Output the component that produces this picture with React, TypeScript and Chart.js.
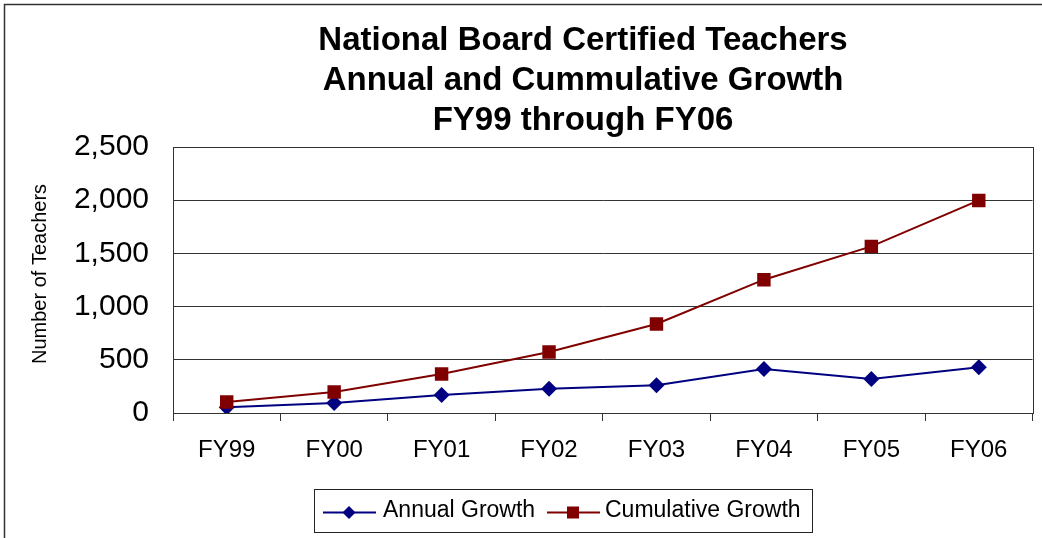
import React, { useEffect, useRef } from "react";
import { Chart, registerables } from "chart.js";

Chart.register(...registerables);

const categories = ["FY99", "FY00", "FY01", "FY02", "FY03", "FY04", "FY05", "FY06"];
const annualGrowth = [53, 94, 169, 228, 260, 414, 320, 429];
const cumulativeGrowth = [103, 197, 367, 573, 837, 1253, 1566, 1998];
const titleLines = [
  "National Board Certified Teachers",
  "Annual and Cummulative Growth",
  "FY99 through FY06",
];
const yAxisTitle = "Number of Teachers";
const seriesNames = ["Annual Growth", "Cumulative Growth"];

const FONT = "'Liberation Sans', Arial, sans-serif";
const NAVY = "#000080";
const MAROON = "#800000";

const decorPlugin = {
  id: "decor",
  beforeDatasetsDraw(chart: any) {
    const { ctx, chartArea } = chart;
    ctx.save();
    ctx.strokeStyle = "#333";
    ctx.lineWidth = 1;
    ctx.strokeRect(
      Math.round(chartArea.left) + 0.5,
      Math.round(chartArea.top) + 0.5,
      Math.round(chartArea.right - chartArea.left),
      Math.round(chartArea.bottom - chartArea.top)
    );
    ctx.restore();
  },
  afterDraw(chart: any) {
    const { ctx } = chart;
    ctx.save();
    // outer frame
    ctx.strokeStyle = "#333";
    ctx.lineWidth = 1.5;
    ctx.strokeRect(4.5, 4.5, 1100, 600);

    // title
    ctx.fillStyle = "#000";
    ctx.font = `bold 33px ${FONT}`;
    ctx.textAlign = "center";
    ctx.textBaseline = "alphabetic";
    const baselines = [50, 90, 130];
    titleLines.forEach((t, i) => ctx.fillText(t, 583, baselines[i]));

    // y axis title
    ctx.save();
    ctx.translate(46, 274);
    ctx.rotate(-Math.PI / 2);
    ctx.font = `20px ${FONT}`;
    ctx.textAlign = "center";
    ctx.fillText(yAxisTitle, 0, 0);
    ctx.restore();

    // legend
    ctx.strokeStyle = "#222";
    ctx.lineWidth = 1;
    ctx.strokeRect(314.5, 489.5, 498, 43);
    const ly = 512.5;
    // annual
    ctx.strokeStyle = NAVY;
    ctx.lineWidth = 2;
    ctx.beginPath();
    ctx.moveTo(323, ly);
    ctx.lineTo(376, ly);
    ctx.stroke();
    ctx.fillStyle = NAVY;
    ctx.beginPath();
    ctx.moveTo(349, ly - 6.5);
    ctx.lineTo(355.5, ly);
    ctx.lineTo(349, ly + 6.5);
    ctx.lineTo(342.5, ly);
    ctx.closePath();
    ctx.fill();
    // cumulative
    ctx.strokeStyle = MAROON;
    ctx.beginPath();
    ctx.moveTo(547, ly);
    ctx.lineTo(600, ly);
    ctx.stroke();
    ctx.fillStyle = MAROON;
    ctx.fillRect(567, ly - 6, 12, 12);
    // text
    ctx.fillStyle = "#000";
    ctx.font = `23px ${FONT}`;
    ctx.textAlign = "left";
    ctx.fillText(seriesNames[0], 383, 517);
    ctx.fillText(seriesNames[1], 605, 517);
    ctx.restore();
  },
};

export default function App() {
  const canvasRef = useRef<HTMLCanvasElement | null>(null);

  useEffect(() => {
    document.body.style.margin = "0";
    const canvas = canvasRef.current;
    if (!canvas) return;
    const chart = new Chart(canvas, {
      type: "line",
      data: {
        labels: categories,
        datasets: [
          {
            label: seriesNames[0],
            data: annualGrowth,
            borderColor: NAVY,
            backgroundColor: NAVY,
            borderWidth: 2,
            pointStyle: "rectRot",
            pointRadius: 8,
            pointBorderWidth: 0,
            tension: 0,
            order: 1,
          },
          {
            label: seriesNames[1],
            data: cumulativeGrowth,
            borderColor: MAROON,
            backgroundColor: MAROON,
            borderWidth: 2,
            pointStyle: "rect",
            pointRadius: 9.5,
            pointBorderWidth: 0,
            tension: 0,
            order: 0,
          },
        ],
      },
      options: {
        responsive: false,
        animation: false,
        devicePixelRatio: 1,
        layout: { padding: { left: 0, top: 147, right: 7, bottom: 0 } },
        plugins: {
          legend: { display: false },
          title: { display: false },
          tooltip: { enabled: false },
        },
        scales: {
          x: {
            offset: true,
            grid: {
              offset: true,
              drawOnChartArea: false,
              drawTicks: true,
              tickLength: 8,
              color: "#333",
            },
            border: { display: true, color: "#333" },
            ticks: {
              color: "#000",
              font: { family: FONT, size: 24 },
              padding: 15,
              maxRotation: 0,
              autoSkip: false,
            },
            afterFit: (scale: any) => {
              scale.height = 125;
            },
          },
          y: {
            min: 0,
            max: 2500,
            grid: { color: "#333", drawTicks: false },
            border: { display: true, color: "#333" },
            ticks: {
              stepSize: 500,
              color: "#000",
              font: { family: FONT, size: 30 },
              padding: 24,
              callback: (v: any) => Number(v).toLocaleString("en-US"),
            },
            afterFit: (scale: any) => {
              scale.width = 173;
            },
          },
        },
      },
      plugins: [decorPlugin],
    });
    return () => chart.destroy();
  }, []);

  return (
    <div style={{ position: "absolute", left: 0, top: 0, width: 1042, height: 538, background: "#fff" }}>
      <canvas ref={canvasRef} width={1042} height={538} style={{ display: "block" }} />
    </div>
  );
}
